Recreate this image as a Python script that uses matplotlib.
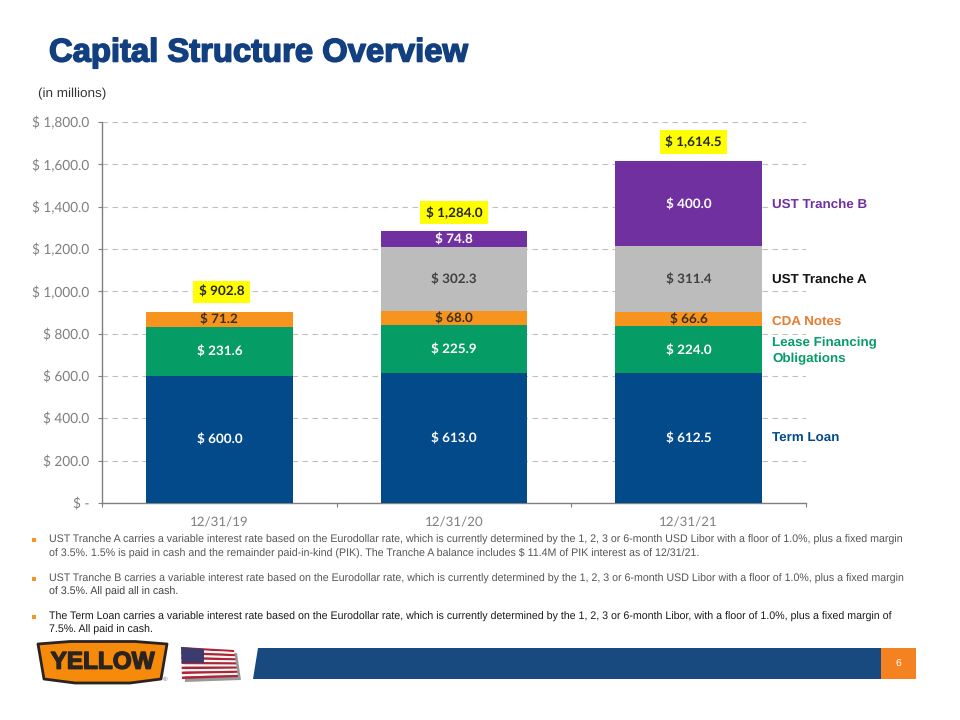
import matplotlib
matplotlib.use('Agg')
import matplotlib.pyplot as plt
import matplotlib.patheffects as pe
from matplotlib import font_manager
from matplotlib.patches import Polygon, Rectangle
import numpy as np

plt.rcParams['text.hinting'] = 'no_hinting'
plt.rcParams['text.hinting_factor'] = 8

dates = ['12/31/19', '12/31/20', '12/31/21']
term_loan = [600.0, 613.0, 612.5]
lease_fin = [231.6, 225.9, 224.0]
cda_notes = [71.2, 68.0, 66.6]
tranche_a = [0, 302.3, 311.4]
tranche_b = [0, 74.8, 400.0]
totals = [902.8, 1284.0, 1614.5]
y_ticks = [0, 200, 400, 600, 800, 1000, 1200, 1400, 1600, 1800]

series = [
    (term_loan, '#024A8A', 'white'),
    (lease_fin, '#059C66', 'white'),
    (cda_notes, '#F7941E', '#3A3020'),
    (tranche_a, '#BCBCBC', '#404040'),
    (tranche_b, '#7030A0', 'white'),
]

bullets = [
    ['UST Tranche A carries a variable interest rate based on the Eurodollar rate, which is currently determined by the 1, 2, 3 or 6-month USD Libor with a floor of 1.0%, plus a fixed margin',
     'of 3.5%. 1.5% is paid in cash and the remainder paid-in-kind (PIK). The Tranche A balance includes $ 11.4M of PIK interest as of 12/31/21.'],
    ['UST Tranche B carries a variable interest rate based on the Eurodollar rate, which is currently determined by the 1, 2, 3 or 6-month USD Libor with a floor of 1.0%, plus a fixed margin',
     'of 3.5%. All paid all in cash.'],
    ['The Term Loan carries a variable interest rate based on the Eurodollar rate, which is currently determined by the 1, 2, 3 or 6-month Libor, with a floor of 1.0%, plus a fixed margin of',
     '7.5%. All paid in cash.'],
]
bullet_y = [540, 553, 579, 592, 617, 630]
bullet_col = ['#555555', '#555555', '#555555', '#404040', '#1A1A1A', '#1A1A1A']

W, H = 960, 720
CHART = 'Lato'
ARIAL = 'Liberation Sans'

fig = plt.figure(figsize=(9.6, 7.2), dpi=100)

# overlay in pixel coordinates for the slide furniture
bg = fig.add_axes([0, 0, 1, 1])
bg.set_xlim(0, W)
bg.set_ylim(H, 0)
bg.axis('off')

ax = fig.add_axes([102 / W, 1 - 503 / H, (806 - 102) / W, (503 - 122) / H])
ax.set_xlim(-0.5, 2.5)
ax.set_ylim(0, 1800)
ax.patch.set_alpha(0)

x = np.arange(3)
bottom = np.zeros(3)
for vals, col, txt in series:
    vals = np.array(vals)
    ax.bar(x, vals, 0.625, bottom=bottom, color=col, zorder=3)
    for i in x:
        if vals[i] > 0:
            ax.text(i, bottom[i] + vals[i] / 2 - 3, f'$ {vals[i]:.1f}', ha='center', va='center',
                    color=txt, fontsize=9.7, fontweight='bold', family=CHART, zorder=4)
    bottom += vals

offsets = [0.01, 0.0, 0.02]
label_y = [997, 1371, 1706]
for i, t in enumerate(totals):
    ax.text(i + offsets[i], label_y[i], f'$ {t:,.1f}', ha='center', va='center',
            fontsize=9.7, fontweight='bold', family=CHART, color='#262626', zorder=5,
            bbox=dict(boxstyle='square,pad=0.4', fc='#FFFF00', ec='none'))

ax.set_yticks(y_ticks)
ax.set_yticklabels(['$ -'] + [f'$ {v:,.1f}' for v in y_ticks[1:]], family=CHART, fontsize=9.8, color='#7F7F7F')
ax.set_xticks([-0.5, 0.5, 1.5, 2.5], minor=False)
ax.set_xticklabels([])
for i, d in enumerate(dates):
    ax.text(i, -93, d, ha='center', va='center', family=CHART, fontsize=9.6, color='#7F7F7F')
ax.yaxis.grid(True, color='#BFBFBF', linestyle=(0, (5, 4)), linewidth=0.8, zorder=0)
ax.tick_params(axis='y', length=3, color='#808080', pad=6)
ax.tick_params(axis='x', length=3, color='#808080')
for s in ['top', 'right']:
    ax.spines[s].set_visible(False)
ax.spines['left'].set_color('#808080')
ax.spines['bottom'].set_color('#808080')
ax.spines['left'].set_linewidth(1.0)
ax.spines['bottom'].set_linewidth(1.0)

# series names on the right
names = [('UST Tranche B', 204, '#7030A0'), ('UST Tranche A', 279, '#111111'), ('CDA Notes', 321, '#E87B2E'),
         ('Lease Financing', 342, '#059C66'), ('Obligations', 358, '#059C66'), ('Term Loan', 438, '#024A8A')]
top = fig.add_axes([0, 0, 1, 1])
top.set_xlim(0, W)
top.set_ylim(H, 0)
top.axis('off')
for name, py, col in names:
    top.text(772, py + 0.5, name, color=col, fontsize=9.6, fontweight='bold', family=ARIAL, va='center',
             bbox=dict(boxstyle='square,pad=0.1', fc='white', ec='none'))

bg.text(49, 53, 'Capital Structure Overview', color='#123F80', fontsize=23.6, fontweight='bold',
        family=ARIAL, va='center', path_effects=[pe.withStroke(linewidth=1.1, foreground='#123F80')])
bg.text(38, 94, '(in millions)', color='#333333', fontsize=9.7, family=ARIAL, va='center')

for k, row in enumerate([r for b in bullets for r in b]):
    if k % 2 == 0:
        bg.add_patch(Rectangle((31.5, bullet_y[k] - 2.5), 4, 4, color='#F7941E', lw=0))
    bg.text(49, bullet_y[k], row, color=bullet_col[k], fontsize=7.7, family=ARIAL, va='center')

# footer band
bg.add_patch(Polygon([(258, 648), (916, 648), (916, 679), (253, 679)], color='#184A80', lw=0))
bg.add_patch(Rectangle((881, 648), 35, 31, color='#F58220', lw=0))
bg.text(898, 664, '6', color='white', fontsize=7.5, family=ARIAL, ha='center', va='center')

# logo
bg.add_patch(Polygon([(38, 644), (70, 641.5), (135, 641.5), (167, 644), (161, 679), (130, 683), (75, 683), (44, 679)],
                     fc='#F58A0B', ec='#2A2320', lw=2, joinstyle='round'))
try:
    font_manager.findfont('Liberation Sans Narrow', fallback_to_default=False)
    logo_font, logo_size = 'Liberation Sans Narrow', 23
except ValueError:
    logo_font, logo_size = ARIAL, 17.5
bg.text(102.5, 662.5, 'YELLOW', color='#2A2320', fontsize=logo_size, fontweight='bold', family=logo_font,
        ha='center', va='center', path_effects=[pe.withStroke(linewidth=1, foreground='#2A2320')])
bg.text(165, 679, '®', color='#777777', fontsize=4.5, family=ARIAL, ha='center', va='center')

# flag, slightly skewed
n_stripes = 13
left = np.array([[181, 647], [182, 679]], dtype=float)
right = np.array([[234, 650], [238, 677]], dtype=float)
bg.add_patch(Polygon([left[0] + [3, 3], right[0] + [3, 3], right[1] + [3, 3], left[1] + [3, 3]], color='#999999', lw=0))
for k in range(n_stripes):
    a0, a1 = k / n_stripes, (k + 1) / n_stripes
    pts = [left[0] + (left[1] - left[0]) * a0, right[0] + (right[1] - right[0]) * a0,
           right[0] + (right[1] - right[0]) * a1, left[0] + (left[1] - left[0]) * a1]
    bg.add_patch(Polygon(pts, color='#B22234' if k % 2 == 0 else '#F5F5F5', lw=0))
bg.add_patch(Polygon([(181, 647), (204, 649), (204, 663), (181.5, 663)], color='#3C3B6E', lw=0))

fig.savefig('out.png', dpi=100)
